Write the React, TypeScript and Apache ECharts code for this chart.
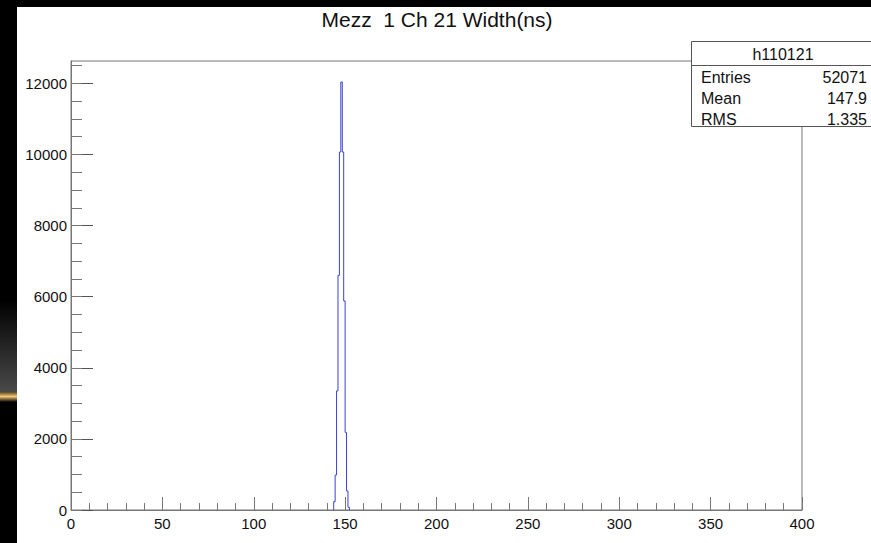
import { useEffect, useRef } from "react";
import * as echarts from "echarts";

const TITLE = "Mezz  1 Ch 21 Width(ns)";
const X_MIN = 0;
const X_MAX = 400;
const N_BINS = 512;
const FIRST_BIN = 184;
const BIN_COUNTS = [233, 983, 3350, 6600, 10070, 12040, 10070, 5880, 2183, 534, 76];
const Y_MAX = 12630;
const X_TICKS = [0, 50, 100, 150, 200, 250, 300, 350, 400];
const X_MINOR_STEP = 10;
const Y_TICKS = [0, 2000, 4000, 6000, 8000, 10000, 12000];
const Y_MINOR_STEP = 500;
const STATS_NAME = "h110121";
const STATS_LABELS = ["Entries", "Mean", "RMS"];
const STATS_VALUES = ["52071", "147.9", "1.335"];

const FONT = "'Liberation Sans', Arial, Helvetica, sans-serif";
const AXIS_COLOR = "#777";

function range(step: number, max: number): number[] {
  const out: number[] = [];
  for (let v = 0; v <= max + 1e-9; v += step) out.push(v);
  return out;
}

export default function App() {
  const ref = useRef<HTMLDivElement>(null);
  useEffect(() => {
    if (!ref.current) return;
    const chart = echarts.init(ref.current, undefined, { renderer: "svg" });
    const binW = (X_MAX - X_MIN) / N_BINS;
    const pts: number[][] = [];
    const e0 = X_MIN + FIRST_BIN * binW;
    pts.push([e0, 0]);
    BIN_COUNTS.forEach((c, i) => {
      const lo = X_MIN + (FIRST_BIN + i) * binW;
      const hi = lo + binW;
      pts.push([lo, c]);
      pts.push([hi, c]);
    });
    pts.push([X_MIN + (FIRST_BIN + BIN_COUNTS.length) * binW, 0]);

    const xMinor = range(X_MINOR_STEP, X_MAX);
    const yMinor = range(Y_MINOR_STEP, Y_MAX);

    const statsTop = 41.5;
    const rowH = 21;
    const graphics: any[] = [
      { type: "rect", z: -10, silent: true, shape: { x: 17, y: 7, width: 854, height: 536 }, style: { fill: "#fff" } },
      {
        type: "rect", z: -10, silent: true, shape: { x: 0, y: 300, width: 17, height: 93 },
        style: { fill: new echarts.graphic.LinearGradient(0, 0, 0, 1, [{ offset: 0, color: "#000" }, { offset: 1, color: "#4a4a4a" }]) },
      },
      {
        type: "rect", z: -10, silent: true, shape: { x: 0, y: 392, width: 17, height: 10 },
        style: { fill: new echarts.graphic.LinearGradient(0, 0, 0, 1, [{ offset: 0, color: "#5a4520" }, { offset: 0.45, color: "#f2c878" }, { offset: 1, color: "#000" }]) },
      },
      {
        type: "text", z: 100, x: 437, y: 19,
        style: { text: TITLE, fontSize: 21, fontFamily: FONT, fill: "#111", textAlign: "center", textVerticalAlign: "middle" },
      },
      { type: "rect", z: 100, shape: { x: 691.5, y: statsTop, width: 183, height: 85 }, style: { fill: "#fff", stroke: "#555", lineWidth: 1 } },
      { type: "line", z: 101, shape: { x1: 691.5, y1: 65.5, x2: 874, y2: 65.5 }, style: { stroke: "#555", lineWidth: 1 } },
      {
        type: "text", z: 101, x: 783, y: 54,
        style: { text: STATS_NAME, fontSize: 16, fontFamily: FONT, fill: "#111", textAlign: "center", textVerticalAlign: "middle" },
      },
    ];
    STATS_LABELS.forEach((lab, i) => {
      const y = 77 + i * rowH;
      graphics.push({ type: "text", z: 101, x: 701, y, style: { text: lab, fontSize: 16, fontFamily: FONT, fill: "#111", textAlign: "left", textVerticalAlign: "middle" } });
      graphics.push({ type: "text", z: 101, x: 867, y, style: { text: STATS_VALUES[i], fontSize: 16, fontFamily: FONT, fill: "#111", textAlign: "right", textVerticalAlign: "middle" } });
    });

    const plain = (v: number) => String(v);
    const common = { min: X_MIN, max: X_MAX, type: "value" as const, splitLine: { show: false } };
    chart.setOption({
      animation: false,
      backgroundColor: "#000",
      grid: { left: 71, top: 61, right: 69, bottom: 33, show: true, borderColor: AXIS_COLOR, borderWidth: 1, backgroundColor: "transparent" },
      xAxis: [
        {
          ...common, position: "bottom",
          axisLine: { show: true, lineStyle: { color: AXIS_COLOR, width: 1 } },
          axisTick: { show: true, inside: true, length: 13, customValues: X_TICKS, lineStyle: { color: AXIS_COLOR } },
          axisLabel: { show: true, customValues: X_TICKS, formatter: plain, fontSize: 15, fontFamily: FONT, color: "#111", margin: 6 },
        },
        {
          ...common, position: "bottom",
          axisLine: { show: false },
          axisTick: { show: true, inside: true, length: 7, customValues: xMinor, lineStyle: { color: AXIS_COLOR } },
          axisLabel: { show: false },
        },
      ],
      yAxis: [
        {
          type: "value", min: 0, max: Y_MAX, position: "left", splitLine: { show: false },
          axisLine: { show: true, lineStyle: { color: AXIS_COLOR, width: 1 } },
          axisTick: { show: true, inside: true, length: 22, customValues: Y_TICKS, lineStyle: { color: "#555" } },
          axisLabel: { show: true, customValues: Y_TICKS, formatter: plain, fontSize: 15, fontFamily: FONT, color: "#111", margin: 4 },
        },
        {
          type: "value", min: 0, max: Y_MAX, position: "left", splitLine: { show: false },
          axisLine: { show: false },
          axisTick: { show: true, inside: true, length: 11, customValues: yMinor, lineStyle: { color: AXIS_COLOR } },
          axisLabel: { show: false },
        },
      ],
      graphic: graphics,
      series: [
        {
          type: "line", xAxisIndex: 0, yAxisIndex: 0, data: pts, symbol: "none", showSymbol: false,
          lineStyle: { color: "#3a42d2", width: 1 }, z: 3, silent: true,
        },
      ],
    });
    return () => chart.dispose();
  }, []);
  return <div ref={ref} style={{ position: "fixed", left: 0, top: 0, width: 871, height: 543 }} />;
}
